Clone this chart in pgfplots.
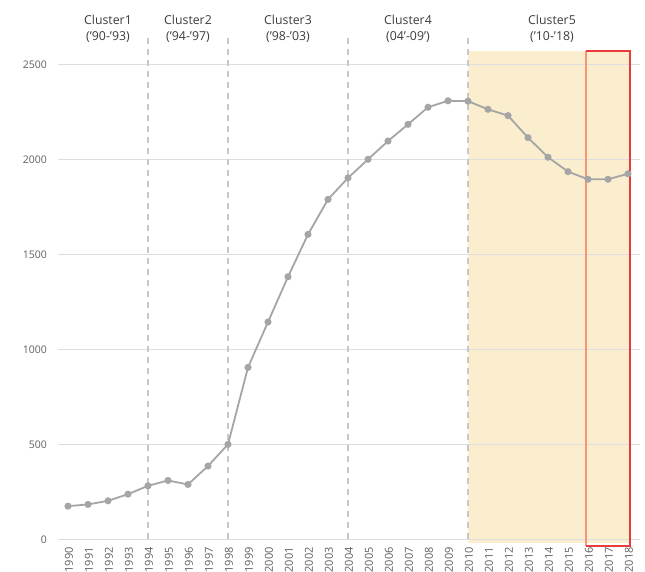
\documentclass[border=0pt]{standalone}
\usepackage{pgfplots}
\pgfplotsset{compat=1.18}
\usepackage{fontspec}
\setmainfont{Open Sans}
\definecolor{lineg}{RGB}{165,165,165}
\definecolor{gridg}{RGB}{222,222,222}
\definecolor{dashg}{RGB}{200,200,200}
\definecolor{shadec}{RGB}{250,238,206}
\definecolor{tickg}{RGB}{95,95,95}
\definecolor{labg}{RGB}{60,60,60}
\definecolor{redb}{RGB}{232,60,60}
\definecolor{salmon}{RGB}{245,150,120}
\begin{document}
\begin{tikzpicture}
\begin{axis}[at={(0,0)},anchor=south west,
  scale only axis, width=582pt, height=511.2pt,
  xmin=1989.5, xmax=2018.6, ymin=-40, ymax=2650,
  clip=false,
  axis line style={draw=none},
  major tick length=0pt,
  xtick={1990,...,2018},
  ytick={0,500,...,2500},
  /pgf/number format/1000 sep={},
  /pgf/number format/assume math mode=true,
  x tick label style={rotate=90, anchor=east, inner sep=0pt, yshift=-1pt,
    font=\fontsize{11}{12}\selectfont, text=tickg},
  y tick label style={anchor=east, inner sep=0pt, xshift=-11pt,
    font=\fontsize{10.5}{12}\selectfont, text=tickg},
]
\fill[shadec] (axis cs:2010,-20) rectangle (axis cs:2018.1,2570);
\pgfplotsinvokeforeach{0,500,1000,1500,2000,2500}{
  \draw[gridg, line width=1pt] (axis cs:1989.5,#1) -- (axis cs:2018.6,#1);
}
\pgfplotsinvokeforeach{1994,1998,2004,2010}{
  \draw[dashg, line width=1.3pt, dash pattern=on 6pt off 5pt] (axis cs:#1,0) -- (axis cs:#1,2640);
}
\addplot[lineg, line width=1.8pt, mark=*, mark size=2.6pt, mark options={fill=lineg, draw=lineg, solid}] coordinates {
(1990,175) (1991,184) (1992,203) (1993,238) (1994,282) (1995,310) (1996,289) (1997,386)
(1998,500) (1999,905) (2000,1144) (2001,1382) (2002,1605) (2003,1789) (2004,1902)
(2005,2000) (2006,2096) (2007,2184) (2008,2274) (2009,2308) (2010,2306) (2011,2263)
(2012,2230) (2013,2114) (2014,2011) (2015,1935) (2016,1895) (2017,1895) (2018,1924)
};
\draw[salmon, line width=1.2pt] (axis cs:2015.9,-35) -- (axis cs:2015.9,2570);
\draw[redb, line width=1.2pt] (axis cs:2015.9,2570) -- (axis cs:2018.1,2570) -- (axis cs:2018.1,-35) -- (axis cs:2015.9,-35);
\node[align=center, font=\fontsize{12.3}{16}\selectfont, text=labg] at (axis cs:1992,2688) {Cluster1\\(’90-’93)};
\node[align=center, font=\fontsize{12.3}{16}\selectfont, text=labg] at (axis cs:1996,2688) {Cluster2\\(’94-’97)};
\node[align=center, font=\fontsize{12.3}{16}\selectfont, text=labg] at (axis cs:2001,2688) {Cluster3\\(’98-’03)};
\node[align=center, font=\fontsize{12.3}{16}\selectfont, text=labg] at (axis cs:2007,2688) {Cluster4\\(04’-09’)};
\node[align=center, font=\fontsize{12.3}{16}\selectfont, text=labg] at (axis cs:2014.2,2688) {Cluster5\\(’10-’18)};
\end{axis}
\pgfresetboundingbox
\useasboundingbox (-58pt,-25pt) rectangle (587pt,547pt);
\end{tikzpicture}
\end{document}
